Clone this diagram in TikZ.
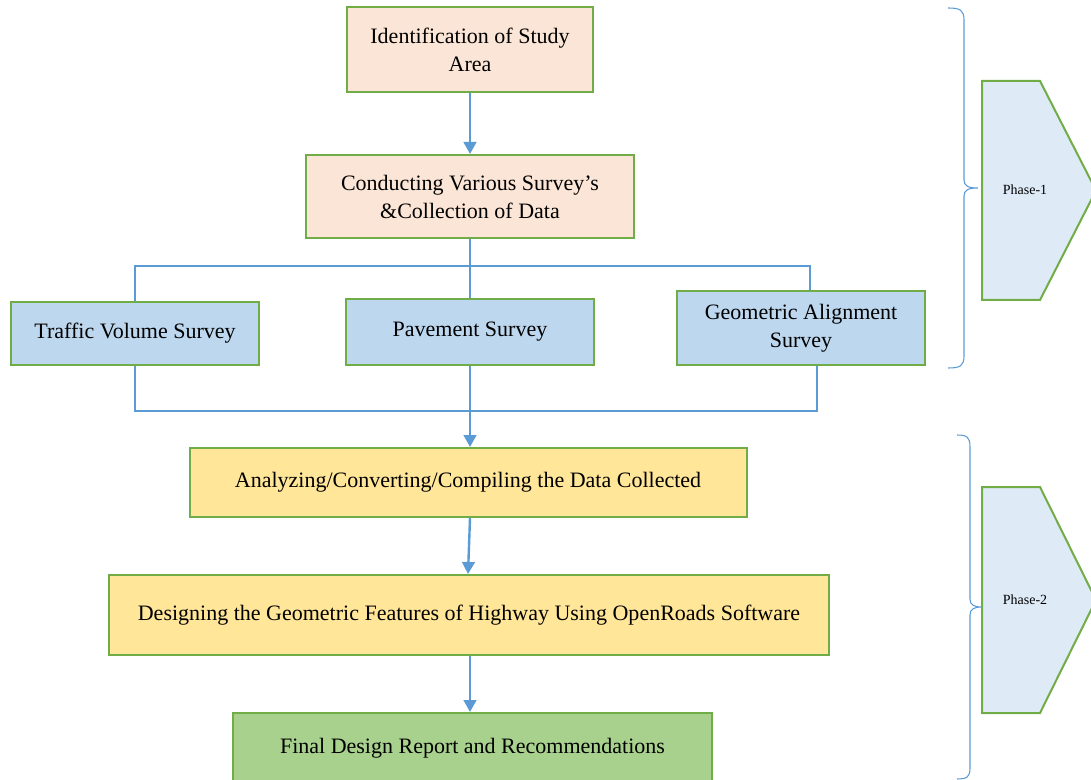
\documentclass[tikz,border=0pt]{standalone}
\usepackage{fontspec}
\setmainfont{Liberation Serif}
\usetikzlibrary{positioning,arrows.meta,calc}
\definecolor{boxedge}{HTML}{70AD47}
\definecolor{linkblue}{HTML}{5B9BD5}
\definecolor{peachfill}{HTML}{FBE5D6}
\definecolor{skyfill}{HTML}{BDD7EE}
\definecolor{sandfill}{HTML}{FFE699}
\definecolor{leaffill}{HTML}{A9D18E}
\definecolor{phasefill}{HTML}{DEEBF7}
\tikzset{
  flowarrow/.style={-{Triangle[length=9pt,width=9.5pt]}, draw=linkblue, line width=1.8pt},
  link/.style={draw=linkblue, line width=0.8pt},
  stepbox/.style={draw=boxedge, line width=1.5pt, fill=peachfill, align=center, inner sep=0pt, font=\fontsize{16.5}{21}\selectfont},
  surveybox/.style={stepbox, fill=skyfill, minimum width=186pt},
  workbox/.style={stepbox, fill=sandfill},
  endbox/.style={stepbox, fill=leaffill},
  phasebox/.style={draw=boxedge, line width=1.5pt, fill=phasefill},
  phaselabel/.style={font=\fontsize{10.5}{12}\selectfont},
  bracefig/.style={draw=linkblue, line width=0.8pt}
}

\begin{document}
\begin{tikzpicture}[x=0.75pt, y=-0.75pt]
  \useasboundingbox (0,0) rectangle (1091,780);
  \clip (0,0) rectangle (1091,780);

  % phase 1 boxes
  \node[stepbox, minimum width=184.5pt, minimum height=63.75pt] (ident) at (470,49.5) {Identification of Study\\Area};
  \node[stepbox, minimum width=246pt, minimum height=62.25pt] (conduct) at (470,196.5) {Conducting Various Survey's\\\&Collection of Data};
  \node[surveybox, minimum height=47.25pt] (traffic) at (135,333.5) {Traffic Volume Survey};
  \node[surveybox, minimum height=49.5pt] (pave) at (470,332) {Pavement Survey};
  \node[surveybox, minimum height=55.5pt] (geom) at (801,328) {Geometric Alignment\\Survey};

  % phase 2 boxes
  \node[workbox, minimum width=417.75pt, minimum height=51.75pt] (analyze) at (468,482.5) {Analyzing/Converting/Compiling the Data Collected};
  \node[workbox, minimum width=540pt, minimum height=60pt] (design) at (469,615) {Designing the Geometric Features of Highway Using OpenRoads Software};
  \node[endbox, minimum width=359.25pt, minimum height=52.5pt] (final) at (472.5,748) {Final Design Report and Recommendations};

  \draw[flowarrow] (ident) -- (conduct);
  \coordinate (splitbar) at (470,266);
  \draw[link] (conduct) -- (pave);
  \draw[link] (traffic.north) |- (splitbar) -| ($(geom.north)+(9,0)$);
  \draw[link] (traffic.south) |- ($(geom.south)+(16,45)$) -- ($(geom.south)+(16,0)$);
  \draw[flowarrow] (pave.south) -- (analyze.north -| pave.south);
  \draw[flowarrow] (analyze.south -| pave.south) -- (design.north -| analyze.south);
  \draw[flowarrow] (design.south -| ident.south) -- (final.north -| ident.south);

  % phases
  \draw[bracefig] (948,8) .. controls (960,8) and (964,10) .. (964,20) -- (964,180)
    .. controls (964,186) and (968,188) .. (978,188) .. controls (968,188) and (964,190) .. (964,196)
    -- (964,356) .. controls (964,366) and (960,368) .. (948,368);
  \draw[bracefig] (957,435) .. controls (967,435) and (970,437) .. (970,447) -- (970,599)
    .. controls (970,605) and (974,607) .. (982,607) .. controls (974,607) and (970,609) .. (970,615)
    -- (970,768) .. controls (970,777) and (967,779) .. (957,779);

  \draw[phasebox] (982,81) -- (1040,81) -- (1096,190.5) -- (1040,300) -- (982,300) -- cycle;
  \node[phaselabel] (phaseone) at (1025,190) {Phase-1};
  \draw[phasebox] (982,487) -- (1040,487) -- (1096,600) -- (1040,713) -- (982,713) -- cycle;
  \node[phaselabel] (phasetwo) at (1025,600) {Phase-2};
\end{tikzpicture}
\end{document}
